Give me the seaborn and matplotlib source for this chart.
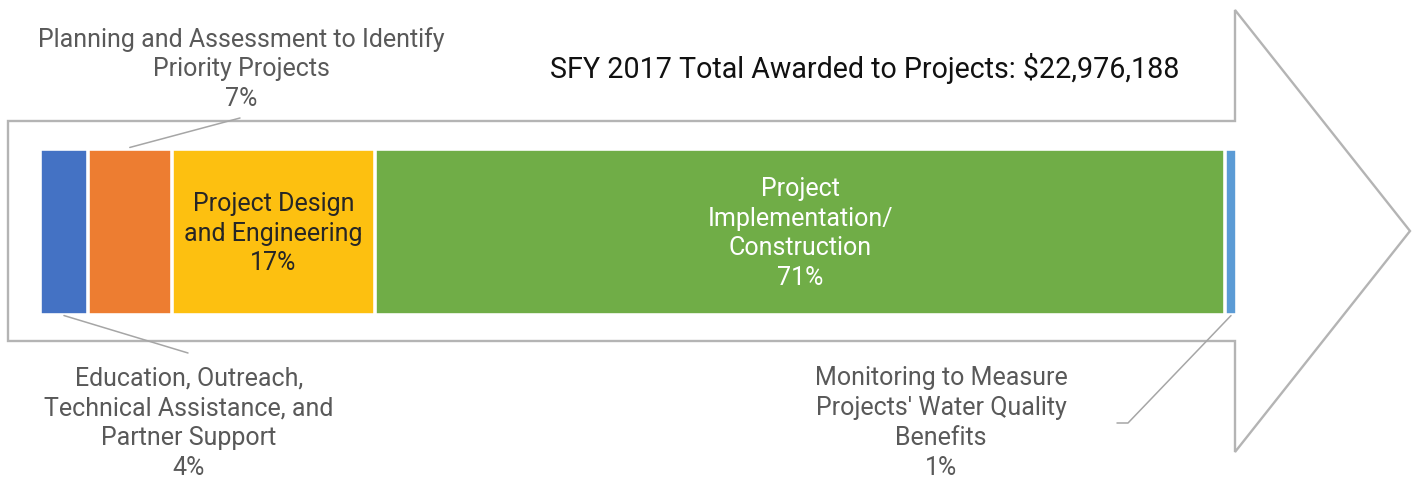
import numpy as np
import matplotlib
matplotlib.use("Agg")
import matplotlib.pyplot as plt
import matplotlib.patches as mpatches
from matplotlib.transforms import Affine2D
import seaborn as sns

# Spending categories and their share of the total award (percent)
categories = [
    "Education, Outreach,\nTechnical Assistance, and\nPartner Support",
    "Planning and Assessment to Identify\nPriority Projects",
    "Project Design\nand Engineering",
    "Project\nImplementation/\nConstruction",
    "Monitoring to Measure\nProjects' Water Quality\nBenefits",
]
shares = [4, 7, 17, 71, 1]
colors = ["#4472C4", "#ED7D31", "#FDC010", "#70AD47", "#5B9BD5"]
title = "SFY 2017 Total Awarded to Projects: $22,976,188"
row = "SFY 2017"

sns.set_theme(style="white")
plt.rcParams["font.family"] = ["Roboto", "DejaVu Sans"]

W, H = 1418, 480
fig = plt.figure(figsize=(W / 100, H / 100), dpi=100)
ax = fig.add_axes([0, 0, 1, 1])

# Page-pixel helpers (origin top-left) for the decorative layout
X_LEFT, X_RIGHT = 40, 1237
UX = (X_RIGHT - X_LEFT) / 100.0
Y_MID, BAND = 231.5, 166.0
BAR_W = 0.8
UY = BAND / BAR_W


def dx(px):
    return (px - X_LEFT) / UX


def dy(py):
    return (py - Y_MID) / UY


fig_px = Affine2D().scale(1 / W, -1 / H).translate(0, 1) + fig.transFigure

# Stacked bar: draw cumulative totals from largest to smallest so each
# segment overlays the previous one with a white separator
cum = np.cumsum(shares)
for i in reversed(range(len(shares))):
    sns.barplot(x=[cum[i]], y=[row], color=colors[i], saturation=1,
                width=BAR_W, edgecolor="white", linewidth=2.6, ax=ax)

ax.set_xlim(dx(0), dx(W))
ax.set_ylim(dy(H), dy(0))
ax.axis("off")

# Arrow outline around the bar
arrow_pts = [(8, 121), (1235, 121), (1235, 10), (1410, 231),
             (1235, 452), (1235, 341), (8, 341)]
ax.add_patch(mpatches.Polygon(arrow_pts, closed=True, fill=False,
                              edgecolor="#b4b4b4", linewidth=1.7,
                              joinstyle="miter", transform=fig_px))

# Title
ax.text(865, 68, title, transform=fig_px, ha="center", va="center",
        fontsize=20.6, color="#111111")

starts = cum - np.array(shares)
mids = starts + np.array(shares) / 2.0
labels = [f"{c}\n{s}%" for c, s in zip(categories, shares)]
lab_size = 18
spacing = 1.3
gray = "#595959"
lead = "#a6a6a6"

# Labels inside the wide segments
ax.text(mids[2], 0.01, labels[2], ha="center", va="center",
        fontsize=lab_size, color="#262626", linespacing=spacing)
ax.text(mids[3], 0.01, labels[3], ha="center", va="center",
        fontsize=lab_size, color="white", linespacing=spacing)

# Outside labels with leader lines
ax.text(241, 69, labels[1], transform=fig_px, ha="center", va="center",
        fontsize=lab_size, color=gray, linespacing=spacing)
ax.plot([mids[1], dx(240)], [-BAR_W / 2 - 0.005, dy(118)], color=lead, lw=1.1)

ax.text(189, 423, labels[0], transform=fig_px, ha="center", va="center",
        fontsize=lab_size, color=gray, linespacing=spacing)
ax.plot([mids[0], dx(188)], [BAR_W / 2 + 0.005, dy(353)], color=lead, lw=1.1)

ax.text(941, 423, labels[4], transform=fig_px, ha="center", va="center",
        fontsize=lab_size, color=gray, linespacing=spacing)
ax.plot([mids[4], dx(1128), dx(1117)], [BAR_W / 2 + 0.005, dy(423), dy(423)],
        color=lead, lw=1.1)

fig.savefig("out.png", dpi=100)
